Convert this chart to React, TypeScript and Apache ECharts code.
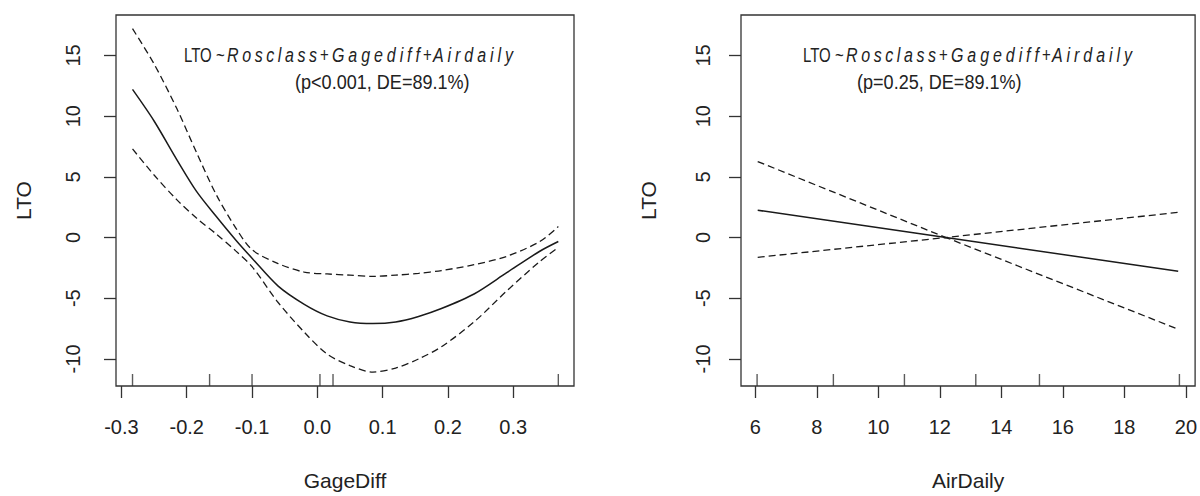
import React, { useEffect, useRef } from "react";
import * as echarts from "echarts";

// Smooth term for GageDiff: fitted partial effect and its confidence band
const gageX = [-0.283, -0.25, -0.215, -0.185, -0.155, -0.125, -0.1, -0.06, -0.02, 0.015, 0.05, 0.085, 0.12, 0.155, 0.19, 0.24, 0.29, 0.34, 0.369];
const gageFit = [12.2, 9.6, 6.4, 3.8, 1.75, -0.2, -1.7, -4.0, -5.5, -6.45, -6.95, -7.08, -6.95, -6.5, -5.85, -4.65, -2.9, -1.15, -0.33];
const gageUpper = [17.2, 14.3, 10.6, 7.0, 3.55, 0.8, -1.0, -2.15, -2.85, -3.0, -3.1, -3.2, -3.1, -2.95, -2.72, -2.24, -1.55, -0.35, 0.9];
const gageLower = [7.3, 5.15, 3.1, 1.6, 0.3, -1.1, -2.4, -5.35, -7.8, -9.6, -10.55, -11.08, -10.75, -10.0, -9.0, -6.95, -4.4, -2.0, -0.82];
const gageRug = [-0.283, -0.165, -0.1, 0.004, 0.024, 0.369];
const gageTicks = [-0.3, -0.2, -0.1, 0, 0.1, 0.2, 0.3];

// Linear term for AirDaily: fit and band (band collapses at the mean)
const airX = [6.08, 12.2, 19.75];
const airFit = [2.25, 0, -2.78];
const airUpper = [6.26, 0, 2.07];
const airLower = [-1.63, 0, -7.55];
const airRug = [6.06, 8.54, 10.85, 13.17, 15.24, 19.79];
const airTicks = [6, 8, 10, 12, 14, 16, 18, 20];

const yTicks = [-10, -5, 0, 5, 10, 15];
const yRange = [-12.23, 18.33];
const gageRange = [-0.3083, 0.393];
const airRange = [5.537, 20.3];

const formulaTerms = ["Rosclass", "Gagediff", "Airdaily"];
const statsLeft = "(p<0.001, DE=89.1%)";
const statsRight = "(p=0.25, DE=89.1%)";

const FONT = '"Liberation Sans", Arial, Helvetica, sans-serif';
const INK = "#222";
const LINE = "#1a1a1a";

const zip = (xs: number[], ys: number[]) => xs.map((x, i) => [x, ys[i]]);

// italic word drawn glyph by glyph so the letters get extra spacing
function spacedItalic(word: string, x: number, y: number, gap: number) {
  const chars = word.split("");
  const text = chars
    .map((c, i) => (i < chars.length - 1 ? `{a|${c}}` : `{b|${c}}`))
    .join("");
  return {
    type: "text",
    x,
    y,
    scaleX: 0.8,
    style: {
      text,
      verticalAlign: "middle",
      rich: {
        a: { fontSize: 20, fontStyle: "italic", fontFamily: FONT, fill: INK, padding: [0, gap, 0, 0] },
        b: { fontSize: 20, fontStyle: "italic", fontFamily: FONT, fill: INK },
      },
    },
  };
}

// narrow upright text, squeezed horizontally
function plain(text: string, x: number, y: number, size: number, squeeze: number) {
  return {
    type: "text",
    x,
    y,
    scaleX: squeeze,
    style: { text, fontSize: size, fontFamily: FONT, fill: INK, verticalAlign: "middle" },
  };
}

function annotation(dx: number, stats: string, statsX: number) {
  const y1 = 55;
  return [
    plain("LTO", 184 + dx, y1, 20, 0.75),
    plain("~", 216 + dx, y1, 20, 0.75),
    spacedItalic(formulaTerms[0], 227 + dx, y1, 4.5),
    plain("+", 320 + dx, y1, 20, 0.75),
    spacedItalic(formulaTerms[1], 332 + dx, y1, 4.9),
    plain("+", 423 + dx, y1, 20, 0.75),
    spacedItalic(formulaTerms[2], 433 + dx, y1, 4.9),
    plain(stats, statsX, 81, 21, 0.86),
  ];
}

function xAxisFor(grid: number, range: number[], ticks: number[], name: string, digits: number) {
  return {
    type: "value",
    gridIndex: grid,
    min: range[0],
    max: range[1],
    splitLine: { show: false },
    axisLine: { show: false, onZero: false },
    axisTick: {
      show: true,
      inside: false,
      length: 12,
      customValues: ticks,
      lineStyle: { color: "#333", width: 1.3 },
    },
    axisLabel: {
      customValues: ticks,
      formatter: (v: number) => v.toFixed(digits),
      margin: 31,
      fontSize: 20,
      fontFamily: FONT,
      color: INK,
    },
    name,
    nameLocation: "middle",
    nameGap: 84,
    nameTextStyle: { fontSize: 21, fontFamily: FONT, color: INK },
  };
}

function yAxisFor(grid: number, margin: number) {
  return {
    type: "value",
    gridIndex: grid,
    min: yRange[0],
    max: yRange[1],
    splitLine: { show: false },
    axisLine: { show: false, onZero: false },
    axisTick: {
      show: true,
      inside: false,
      length: 12,
      customValues: yTicks,
      lineStyle: { color: "#333", width: 1.3 },
    },
    axisLabel: {
      customValues: yTicks,
      rotate: 90,
      margin,
      fontSize: 20,
      fontFamily: FONT,
      color: INK,
    },
    name: "LTO",
    nameLocation: "middle",
    nameRotate: 90,
    nameGap: 82,
    nameTextStyle: { fontSize: 21, fontFamily: FONT, color: INK },
  };
}

function curve(grid: number, xs: number[], ys: number[], dashed: boolean) {
  return {
    type: "line",
    xAxisIndex: grid,
    yAxisIndex: grid,
    data: zip(xs, ys),
    showSymbol: false,
    smooth: 0.3,
    lineStyle: {
      color: LINE,
      width: dashed ? 1.3 : 1.5,
      type: dashed ? [7, 4] : "solid",
    },
  };
}

function rug(grid: number, xs: number[]) {
  return {
    type: "scatter",
    xAxisIndex: grid,
    yAxisIndex: grid,
    clip: false,
    symbol: "rect",
    symbolSize: [1.4, 12],
    symbolOffset: [0, -6],
    itemStyle: { color: "#333" },
    data: xs.map((x) => [x, yRange[0]]),
  };
}

export default function App() {
  const ref = useRef<HTMLDivElement>(null);

  useEffect(() => {
    if (!ref.current) return;
    const chart = echarts.init(ref.current, null, { renderer: "svg" });
    chart.setOption({
      animation: false,
      backgroundColor: "#fff",
      grid: [
        { left: 116, top: 15, width: 458, height: 374, show: true, borderColor: "#333", borderWidth: 1.3, backgroundColor: "transparent" },
        { left: 741, top: 15, width: 456, height: 374, show: true, borderColor: "#333", borderWidth: 1.3, backgroundColor: "transparent" },
      ],
      xAxis: [
        xAxisFor(0, gageRange, gageTicks, "GageDiff", 1),
        xAxisFor(1, airRange, airTicks, "AirDaily", 0),
      ],
      yAxis: [yAxisFor(0, 33), yAxisFor(1, 28)],
      series: [
        curve(0, gageX, gageFit, false),
        curve(0, gageX, gageUpper, true),
        curve(0, gageX, gageLower, true),
        rug(0, gageRug),
        { ...curve(1, airX, airFit, false), smooth: false },
        { ...curve(1, airX, airUpper, true), smooth: false },
        { ...curve(1, airX, airLower, true), smooth: false },
        rug(1, airRug),
      ],
      graphic: [...annotation(0, statsLeft, 295), ...annotation(619, statsRight, 857)],
    });
    return () => chart.dispose();
  }, []);

  return (
    <div
      ref={ref}
      style={{ position: "absolute", left: 0, top: 0, width: 1200, height: 496 }}
    />
  );
}
